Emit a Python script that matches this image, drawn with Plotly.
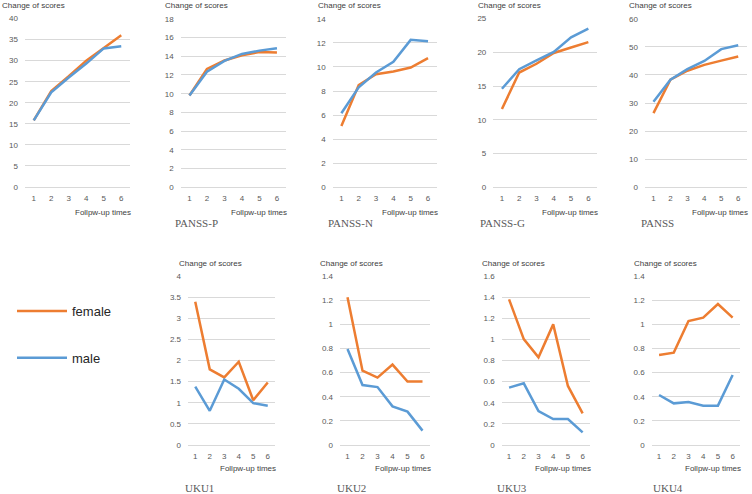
import plotly.graph_objects as go

W, H = 752, 494

follow_up_times = ["1", "2", "3", "4", "5", "6"]

# ---- data ----
p1_female = [15.8, 22.8, 26.3, 30.0, 33.0, 36.0]
p1_male = [15.8, 22.5, 26.0, 29.3, 32.9, 33.4]

panss_p_female = [9.8, 12.65, 13.55, 14.1, 14.45, 14.4]
panss_p_male = [9.8, 12.35, 13.5, 14.25, 14.6, 14.86]

panss_n_female = [5.1, 8.5, 9.4, 9.62, 9.95, 10.73]
panss_n_male = [6.15, 8.3, 9.54, 10.42, 12.25, 12.14]

panss_g_female = [11.6, 17.0, 18.3, 19.9, 20.7, 21.5]
panss_g_male = [14.6, 17.5, 18.8, 20.05, 22.2, 23.5]

panss_female = [26.4, 38.3, 41.5, 43.6, 45.1, 46.6]
panss_male = [30.5, 38.3, 42.1, 45.0, 49.2, 50.6]

uku1_female = [3.39, 1.79, 1.6, 1.97, 1.06, 1.48]
uku1_male = [1.38, 0.81, 1.55, 1.33, 0.99, 0.93]

uku2_female = [1.223, 0.616, 0.558, 0.666, 0.525, 0.525]
uku2_male = [0.795, 0.497, 0.48, 0.32, 0.276, 0.119]

uku3_female = [1.379, 1.003, 0.83, 1.142, 0.559, 0.30]
uku3_male = [0.543, 0.584, 0.322, 0.246, 0.246, 0.12]

uku4_female = [0.746, 0.765, 1.027, 1.055, 1.168, 1.055]
uku4_male = [0.414, 0.345, 0.356, 0.326, 0.326, 0.58]

panel_titles = ["", "PANSS-P", "PANSS-N", "PANSS-G", "PANSS", "UKU1", "UKU2", "UKU3", "UKU4"]
y_max = [40, 18, 14, 25, 60, 4, 1.4, 1.6, 1.4]
y_step = [5, 2, 2, 5, 10, 0.5, 0.2, 0.2, 0.2]

female_series = [p1_female, panss_p_female, panss_n_female, panss_g_female, panss_female,
                 uku1_female, uku2_female, uku3_female, uku4_female]
male_series = [p1_male, panss_p_male, panss_n_male, panss_g_male, panss_male,
               uku1_male, uku2_male, uku3_male, uku4_male]

# ---- layout (pixel geometry) ----
# plot-area boxes: (left, right, top, bottom)
boxes = [
    (25, 130, 18.5, 187), (180.7, 285.7, 18.8, 187.3), (332.7, 436.7, 18.8, 187.3),
    (493.3, 597, 18.5, 187.3), (645, 746.7, 18.8, 187.3),
    (188, 275, 276, 445), (340, 430, 276, 445), (501.7, 590, 276, 445), (651.7, 740, 276, 445),
]
ylabel_left = [0, 163, 316, 476, 627, 177, 318, 480, 632]
title_left = [0, 173, 326, 478, 639, 183, 335, 495, 651]
xtitle_gap = [25, 25, 25, 25, 25, 23, 23, 23, 23]
title_gap = [37, 36, 36, 36, 36, 43, 43, 43, 43]

ORANGE = "#ED7D31"
BLUE = "#5B9BD5"
GRID = "#D9D9D9"
TICK = "#595959"

fig = go.Figure()
annotations = []
layout_axes = {}

for i in range(9):
    n = "" if i == 0 else str(i + 1)
    l, r, t, b = boxes[i]
    layout_axes["xaxis" + n] = dict(
        domain=[l / W, r / W], anchor="y" + n, type="category",
        range=[-0.5, 5.5], automargin=False,
        showgrid=False, showline=True, linecolor=GRID, linewidth=1,
        ticks="", tickfont=dict(size=8, color=TICK, family="Liberation Sans"),
        ticklabelstandoff=3, fixedrange=True,
    )
    layout_axes["yaxis" + n] = dict(
        domain=[1 - b / H, 1 - t / H], anchor="x" + n, automargin=False,
        range=[0, y_max[i]], dtick=y_step[i], tick0=0,
        showgrid=True, gridcolor=GRID, gridwidth=1, zeroline=False, showline=False,
        ticks="", tickfont=dict(size=8, color=TICK, family="Liberation Sans"),
        ticklabelstandoff=6, fixedrange=True,
    )
    fig.add_trace(go.Scatter(
        x=follow_up_times, y=female_series[i], mode="lines", name="female",
        line=dict(color=ORANGE, width=2.5), xaxis="x" + n, yaxis="y" + n,
        showlegend=(i == 0), legendgroup="female",
    ))
    fig.add_trace(go.Scatter(
        x=follow_up_times, y=male_series[i], mode="lines", name="male",
        line=dict(color=BLUE, width=2.5), xaxis="x" + n, yaxis="y" + n,
        showlegend=(i == 0), legendgroup="male",
    ))
    # "Change of scores"
    annotations.append(dict(
        text="Change of scores", x=ylabel_left[i] / W, y=1 - (t - 13) / H,
        xref="paper", yref="paper", xanchor="left", yanchor="middle", showarrow=False,
        font=dict(size=8, color="#404040", family="Liberation Sans"),
    ))
    # "Follpw-up times"
    annotations.append(dict(
        text="Follpw-up times", x=min(r + 3, W - 2) / W, y=1 - (b + xtitle_gap[i]) / H,
        xref="paper", yref="paper", xanchor="right", yanchor="middle", showarrow=False,
        font=dict(size=8, color="#404040", family="Liberation Sans"),
    ))
    if panel_titles[i]:
        annotations.append(dict(
            text=panel_titles[i], x=title_left[i] / W, y=1 - (b + title_gap[i]) / H,
            xref="paper", yref="paper", xanchor="left", yanchor="middle", showarrow=False,
            font=dict(size=11, color="#595959", family="Liberation Serif"),
        ))

fig.update_layout(
    width=W, height=H, margin=dict(l=0, r=0, t=0, b=0, autoexpand=False),
    plot_bgcolor="white", paper_bgcolor="white",
    annotations=annotations,
    showlegend=True,
    hovermode=False,
    legend=dict(
        x=12 / W, y=1 - 296 / H, xanchor="left", yanchor="top",
        font=dict(size=13, color="#262626", family="Liberation Sans"),
        tracegroupgap=27, itemwidth=50, bgcolor="rgba(0,0,0,0)",
    ),
    **layout_axes,
)

fig.write_html(
    "out.html",
    config={"displayModeBar": False, "displaylogo": False},
    post_script="document.body.style.margin='0';document.body.style.overflow='hidden';",
)
